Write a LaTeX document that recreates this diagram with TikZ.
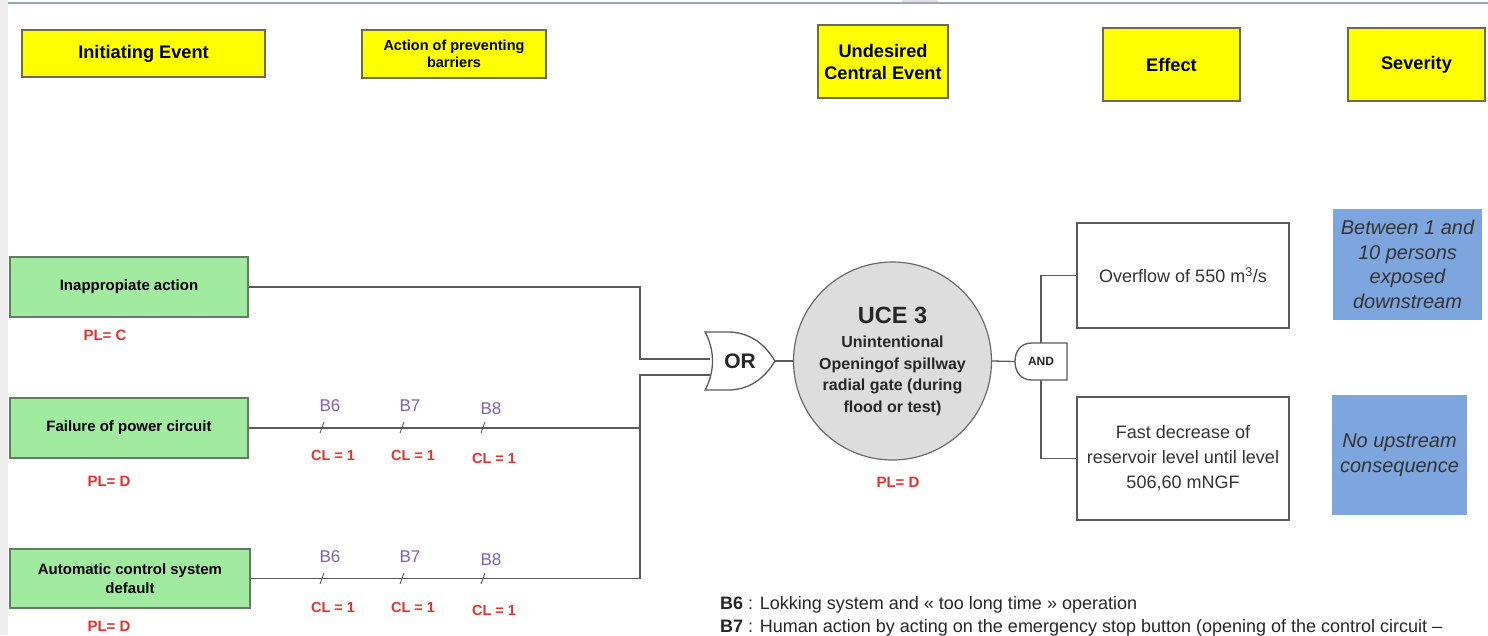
\documentclass[tikz,border=0pt]{standalone}
\usepackage{fontspec}
\setmainfont{Liberation Sans}
\usepackage{tikz}
\usetikzlibrary{positioning}
\definecolor{hdryellow}{HTML}{FFFF00}
\definecolor{hdrline}{HTML}{6B6B50}
\definecolor{evgreen}{HTML}{A0EBA0}
\definecolor{evline}{HTML}{5E7E5E}
\definecolor{sevblue}{HTML}{7EA6DE}
\definecolor{wiregrey}{HTML}{5A5A5A}
\definecolor{ucegrey}{HTML}{DDDDDD}
\definecolor{barpurple}{HTML}{7A62B8}
\definecolor{plred}{HTML}{E4322E}
\definecolor{topblue}{HTML}{98A4C0}
\definecolor{stripgrey}{HTML}{EEEEEE}
\pgfdeclarelayer{background}
\pgfsetlayers{background,main}

\begin{document}
\begin{tikzpicture}[x=1pt, y=-1pt,
    hdr/.style={draw=hdrline, line width=1.2pt, fill=hdryellow, inner sep=0pt,
      align=center, font=\fontsize{18.2}{22}\selectfont\bfseries},
    ini/.style={draw=evline, line width=1.2pt, fill=evgreen, minimum width=238,
      minimum height=60, inner sep=0pt, align=center,
      font=\fontsize{15}{19}\selectfont\bfseries},
    pl/.style={text=plred, font=\fontsize{15}{17}\selectfont\bfseries},
    cl/.style={text=plred, font=\fontsize{14.5}{17}\selectfont\bfseries},
    bar/.style={text=barpurple, font=\fontsize{17}{19}\selectfont},
    eff/.style={draw=wiregrey, line width=1.2pt, fill=white, minimum width=212,
      inner sep=0pt, align=center, text=black!80,
      font=\fontsize{18}{25}\selectfont},
    sev/.style={fill=sevblue, inner sep=0pt, align=center, text=black!80,
      font=\fontsize{20}{24.5}\selectfont\itshape},
    legend/.style={anchor=west, inner sep=0pt, text=black!85,
      font=\fontsize{18}{20}\selectfont},
    wire/.style={draw=wiregrey, line width=1.3pt},
    tick/.style={draw=wiregrey, line width=0.9pt},
    gate/.style={draw=wiregrey, line width=1.3pt, fill=white},
    gtxt/.style={inner sep=0pt, text=black!85}]
  \useasboundingbox (0,0) rectangle (1488,635);

  %% --- column headers ---
  \node[hdr, minimum width=243, minimum height=47] (hIE) at (143.5,53.5) {Initiating Event};
  \node[hdr, minimum width=184, minimum height=48, font=\fontsize{14.5}{17}\selectfont\bfseries]
    (hAB) at (454,54) {Action of preventing\\barriers};
  \node[hdr, minimum width=130, minimum height=73] (hUCE) at (883,61.5) {Undesired\\Central Event};
  \node[hdr, minimum width=137, minimum height=73] (hEff) at (1171.5,64.5) {Effect};
  \node[hdr, minimum width=137, minimum height=73] (hSev) at (1416.5,64.5) {Severity};

  %% --- initiating events ---
  \node[ini] (gIA) at (129,287) {Inappropiate action};
  \node[ini] (gFP) at (129,428) {Failure of power circuit};
  \node[ini, minimum width=240, minimum height=59] (gAC) at (130,578.5) {Automatic control system\\default};
  \node[pl] (plIA) at (105,335) {PL= C};
  \node[pl] (plFP) at (109,481) {PL= D};
  \node[pl] (plAC) at (109,626) {PL= D};

  %% --- barriers on the two lower branches ---
  \foreach \r/\y in {2/428, 3/579} {
    \foreach \x/\b/\d in {322/B6/0, 402/B7/0, 483/B8/3} {
      \draw[tick] (\x-2,\y+5) -- (\x+2,\y-6);
      \node[bar] (\b-\r) at (\x+8,\y-22+\d) {\b};
      \node[cl] (cl\b-\r) at (\x+11,\y+28+\d) {CL = 1};
    }
  }

  %% --- gates and central event ---
  \node[gtxt, minimum width=70, minimum height=58, font=\fontsize{21}{23}\selectfont\bfseries]
    (orgate) at (740,361) {OR};
  \node[circle, draw=wiregrey!90, line width=1.2pt, fill=ucegrey, minimum size=198,
    inner sep=0pt, align=center, text=black!85, font=\fontsize{16}{21.5}\selectfont\bfseries]
    (uce) at (892.5,361) {{\fontsize{23.5}{21.5}\selectfont UCE 3}\\[3pt]Unintentional\\Openingof spillway\\radial gate (during\\flood or test)};
  \node[pl] (plUCE) at (898,482) {PL= D};
  \node[gtxt, minimum width=52, minimum height=37, font=\fontsize{12}{14}\selectfont\bfseries]
    (andgate) at (1041,361.5) {AND};

  %% --- effects and severity ---
  \node[eff, minimum height=105] (effA) at (1183,275.5) {Overflow of 550 m\textsuperscript{3}/s};
  \node[eff, minimum height=123] (effB) at (1183,458.5) {Fast decrease of\\reservoir level until level\\506,60 mNGF};
  \node[sev, minimum width=149, minimum height=111] (sevA) at (1407.5,264.5) {Between 1 and\\10 persons\\exposed\\downstream};
  \node[sev, minimum width=135, minimum height=120] (sevB) at (1399.5,455) {No upstream\\consequence};

  %% --- legend ---
  \node[legend] (legB6) at (720,605) {\textbf{B6} : Lokking system and « too long time » operation};
  \node[legend] (legB7) at (720,628) {\textbf{B7} : Human action by acting on the emergency stop button (opening of the control circuit –};

  \begin{pgfonlayer}{background}
    %% page frame
    \fill[white] (0,0) rectangle (1488,635);
    \fill[stripgrey] (0,0) rectangle (8,635);
    \fill[black!12] (902,0) rectangle (938,3);
    \draw[topblue, line width=1.2pt] (8,3) -- (1488,3);
    %% wires into the OR gate
    \coordinate (bus1) at (640,359);
    \coordinate (bus2) at (640,375);
    \coordinate (orin1) at (710,359);
    \coordinate (orin2) at (710,375);
    \draw[wire] (gIA.east) -| (bus1) -- (orin1);
    \draw[wire] (gAC.east) -| (bus2) -- (orin2);
    \draw[wire] (gFP.east) -- (gFP.east -| bus2);
    \draw[wire] (orgate.east) -- (uce.west);
    \draw[wire] (uce.east) -- (andgate.west);
    \draw[wire] (effA.west) -| (andgate.center) |- (effB.west);
    %% gate outlines
    \draw[gate] (705,332) -- (730,332) .. controls (752,333) and (766,346) .. (775,361)
      .. controls (766,376) and (752,389) .. (730,390) -- (705,390)
      .. controls (715,372) and (715,350) .. cycle;
    \draw[gate] (1067,343) -- (1032,343) .. controls (1020,343) and (1015,352) .. (1015,361.5)
      .. controls (1015,371) and (1020,380) .. (1032,380) -- (1067,380) -- cycle;
  \end{pgfonlayer}
\end{tikzpicture}
\end{document}
